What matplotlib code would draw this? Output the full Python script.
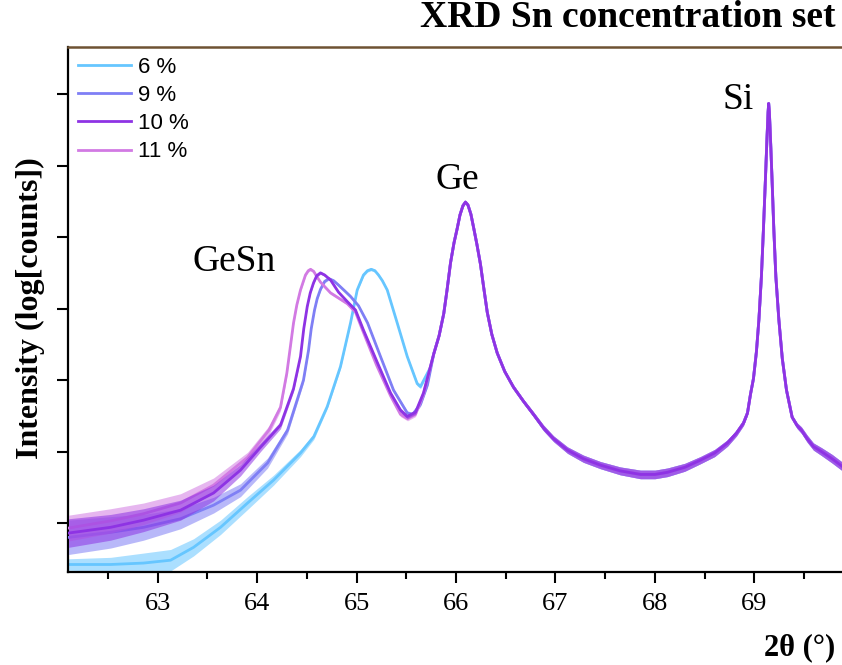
import numpy as np
import matplotlib
matplotlib.use("Agg")
import matplotlib.pyplot as plt
from matplotlib.ticker import MultipleLocator, FixedLocator, NullFormatter

# ---------------- data (2theta in degrees, log10 counts) ----------------
labels = ["6 %", "9 %", "10 %", "11 %"]

# part shared by all samples (Ge and Si substrate peaks)
common_x = [65.777, 65.830, 65.877, 65.910, 65.945, 65.980, 66.012, 66.040, 66.070, 66.095,
            66.120, 66.150, 66.179, 66.210, 66.246, 66.280, 66.314, 66.360, 66.414, 66.490,
            66.578, 66.680, 66.779, 66.880, 66.980, 67.121, 67.280, 67.452, 67.650, 67.854,
            68.000, 68.126, 68.300, 68.457, 68.600, 68.729, 68.820, 68.890, 68.930, 68.960,
            68.990, 69.020, 69.045, 69.070, 69.090, 69.110, 69.125, 69.137, 69.143, 69.150,
            69.162, 69.177, 69.195, 69.215, 69.245, 69.280, 69.322, 69.379, 69.430, 69.472,
            69.530, 69.593, 69.673, 69.780, 69.894]
common_v = [3.37, 3.62, 3.93, 4.26, 4.64, 4.92, 5.12, 5.31, 5.44, 5.49,
            5.45, 5.32, 5.12, 4.90, 4.62, 4.28, 3.95, 3.64, 3.38, 3.12,
            2.90, 2.70, 2.52, 2.33, 2.18, 2.02, 1.90, 1.81, 1.73, 1.68,
            1.68, 1.71, 1.78, 1.88, 1.98, 2.12, 2.26, 2.40, 2.54, 2.80,
            3.02, 3.40, 3.85, 4.45, 5.10, 5.80, 6.35, 6.75, 6.87, 6.75,
            6.35, 5.80, 5.10, 4.45, 3.85, 3.30, 2.86, 2.48, 2.36, 2.30,
            2.18, 2.07, 2.00, 1.90, 1.78]
common_s = [0.02, 0.02, 0.02, 0.02, 0.02, 0.02, 0.02, 0.02, 0.02, 0.02,
            0.02, 0.02, 0.02, 0.02, 0.02, 0.02, 0.02, 0.02, 0.02, 0.025,
            0.03, 0.03, 0.035, 0.04, 0.04, 0.045, 0.05, 0.05, 0.055, 0.06,
            0.06, 0.06, 0.055, 0.05, 0.05, 0.045, 0.04, 0.035, 0.03, 0.03,
            0.02, 0.02, 0.02, 0.02, 0.02, 0.02, 0.02, 0.02, 0.02, 0.02,
            0.02, 0.02, 0.02, 0.02, 0.02, 0.02, 0.025, 0.03, 0.04, 0.045,
            0.05, 0.05, 0.055, 0.06, 0.06]

# GeSn region, per sample
x6 = [62.106, 62.528, 62.859, 63.131, 63.362, 63.633, 63.905, 64.166, 64.437, 64.571,
      64.706, 64.839, 64.940, 65.007, 65.070, 65.110, 65.148, 65.185, 65.221, 65.260,
      65.309, 65.409, 65.510, 65.610, 65.643, 65.744]
v6 = [0.42, 0.42, 0.44, 0.48, 0.66, 0.94, 1.28, 1.60, 1.98, 2.21,
      2.63, 3.19, 3.80, 4.26, 4.47, 4.53, 4.55, 4.53, 4.47, 4.39,
      4.26, 3.80, 3.33, 2.95, 2.91, 3.18]
s6 = [0.08, 0.10, 0.14, 0.15, 0.12, 0.10, 0.09, 0.07, 0.05, 0.04,
      0.03, 0.03, 0.02, 0.02, 0.02, 0.02, 0.02, 0.02, 0.02, 0.02,
      0.02, 0.02, 0.02, 0.03, 0.03, 0.02]

x9 = [62.106, 62.528, 62.859, 63.231, 63.563, 63.834, 64.106, 64.307, 64.467, 64.518,
      64.545, 64.578, 64.605, 64.638, 64.680, 64.722, 64.770, 64.819, 64.880, 64.940,
      65.020, 65.111, 65.241, 65.372, 65.510, 65.563, 65.643, 65.713]
v9 = [0.80, 0.87, 0.94, 1.06, 1.25, 1.46, 1.84, 2.30, 3.00, 3.42,
      3.72, 3.98, 4.14, 4.27, 4.38, 4.42, 4.39, 4.33, 4.25, 4.17,
      4.04, 3.80, 3.33, 2.86, 2.54, 2.52, 2.66, 2.93]
s9 = [0.24, 0.22, 0.18, 0.14, 0.11, 0.09, 0.07, 0.05, 0.04, 0.03,
      0.02, 0.02, 0.02, 0.02, 0.02, 0.02, 0.02, 0.02, 0.02, 0.02,
      0.02, 0.02, 0.02, 0.02, 0.03, 0.03, 0.03, 0.02]

x10 = [62.106, 62.528, 62.859, 63.231, 63.563, 63.834, 64.035, 64.236, 64.367, 64.437,
       64.470, 64.505, 64.535, 64.568, 64.600, 64.638, 64.680, 64.739, 64.819, 64.906,
       64.990, 65.070, 65.211, 65.342, 65.442, 65.510, 65.593, 65.673]
v10 = [0.86, 0.94, 1.04, 1.18, 1.42, 1.74, 2.06, 2.37, 2.88, 3.33,
       3.72, 4.03, 4.22, 4.36, 4.46, 4.50, 4.47, 4.40, 4.23, 4.10,
       3.98, 3.70, 3.24, 2.82, 2.58, 2.49, 2.55, 2.82]
s10 = [0.20, 0.18, 0.16, 0.14, 0.11, 0.08, 0.06, 0.05, 0.04, 0.03,
       0.02, 0.02, 0.02, 0.02, 0.02, 0.02, 0.02, 0.02, 0.02, 0.02,
       0.02, 0.02, 0.02, 0.02, 0.03, 0.03, 0.03, 0.02]

x11 = [62.106, 62.528, 62.859, 63.231, 63.563, 63.905, 64.120, 64.236, 64.300, 64.367,
       64.400, 64.437, 64.487, 64.515, 64.538, 64.570, 64.600, 64.638, 64.739, 64.907,
       64.990, 65.060, 65.201, 65.342, 65.442, 65.513, 65.593, 65.673]
v11 = [0.93, 1.03, 1.13, 1.28, 1.53, 1.92, 2.30, 2.62, 3.10, 3.80,
       4.05, 4.26, 4.47, 4.53, 4.55, 4.52, 4.45, 4.37, 4.22, 4.07,
       3.95, 3.70, 3.21, 2.78, 2.52, 2.46, 2.52, 2.80]
s11 = [0.18, 0.17, 0.15, 0.13, 0.10, 0.07, 0.06, 0.05, 0.04, 0.03,
       0.02, 0.02, 0.02, 0.02, 0.02, 0.02, 0.02, 0.02, 0.02, 0.02,
       0.02, 0.02, 0.02, 0.02, 0.03, 0.03, 0.03, 0.02]

ytick_vals = [1, 2, 3, 4, 5, 6, 7]
xtick_vals = [63, 64, 65, 66, 67, 68, 69]

# ---------------- styling ----------------
colors = ["#66C6FF", "#7F7FF5", "#8E33E4", "#D27AE3"]
zorders = [2, 3, 5, 4]

serif = ["Liberation Serif", "DejaVu Serif"]
sans = ["Liberation Sans", "DejaVu Sans"]

fig = plt.figure(figsize=(8.42, 6.65), dpi=100)
ax = fig.add_axes([68 / 842, 93 / 665, 774 / 842, 525 / 665])

heads = [(x6, v6, s6), (x9, v9, s9), (x10, v10, s10), (x11, v11, s11)]
for (hx, hv, hs), lab, col, z in zip(heads, labels, colors, zorders):
    x = np.array(hx + common_x)
    v = np.array(hv + common_v)
    s = np.array(hs + common_s)
    ax.fill_between(x, v - s, v + s, color=col, alpha=0.55, lw=0, zorder=z)
    ax.plot(x, v, color=col, lw=2.0, label=lab, zorder=z + 0.5,
            solid_joinstyle="round")

ax.set_xlim(62.1, 69.88)
ax.set_ylim(0.315, 7.66)

ax.xaxis.set_major_locator(FixedLocator(xtick_vals))
ax.xaxis.set_minor_locator(MultipleLocator(0.5))
ax.yaxis.set_major_locator(FixedLocator(ytick_vals))
ax.yaxis.set_major_formatter(NullFormatter())
ax.tick_params(axis="x", which="major", direction="out", length=8, width=1.5, pad=7,
               labelsize=19, labelfontfamily=serif)
ax.tick_params(axis="x", which="minor", direction="out", length=5, width=1.5)
ax.tick_params(axis="y", which="major", direction="out", length=8, width=1.5)

ax.spines["right"].set_visible(False)
ax.spines["left"].set_linewidth(1.6)
ax.spines["bottom"].set_linewidth(1.6)
ax.spines["top"].set_linewidth(1.8)
ax.spines["top"].set_color("#6E5233")

# peak annotations
ax.text(63.774, 4.65, "GeSn", fontsize=27, family=serif, ha="center", va="center")
ax.text(66.015, 5.80, "Ge", fontsize=27, family=serif, ha="center", va="center")
ax.text(68.839, 6.92, "Si", fontsize=27, family=serif, ha="center", va="center")

leg = ax.legend(loc="upper left", frameon=False, prop={"family": sans, "size": 16},
                handlelength=2.4, handletextpad=0.3, labelspacing=0.32,
                borderaxespad=0.3, borderpad=0.15)

fig.text(0.992, 0.973, "XRD Sn concentration set", fontsize=27, fontweight="bold",
         family=serif, ha="right", va="center")
fig.text(0.992, 0.026, "2\u03b8 (\u00b0)", fontsize=22, fontweight="bold",
         family=serif, ha="right", va="center")
fig.text(0.036, 0.537, "Intensity (log[counts])", fontsize=23, fontweight="bold",
         family=serif, ha="center", va="center", rotation=90)

fig.savefig("out.png", dpi=100)
